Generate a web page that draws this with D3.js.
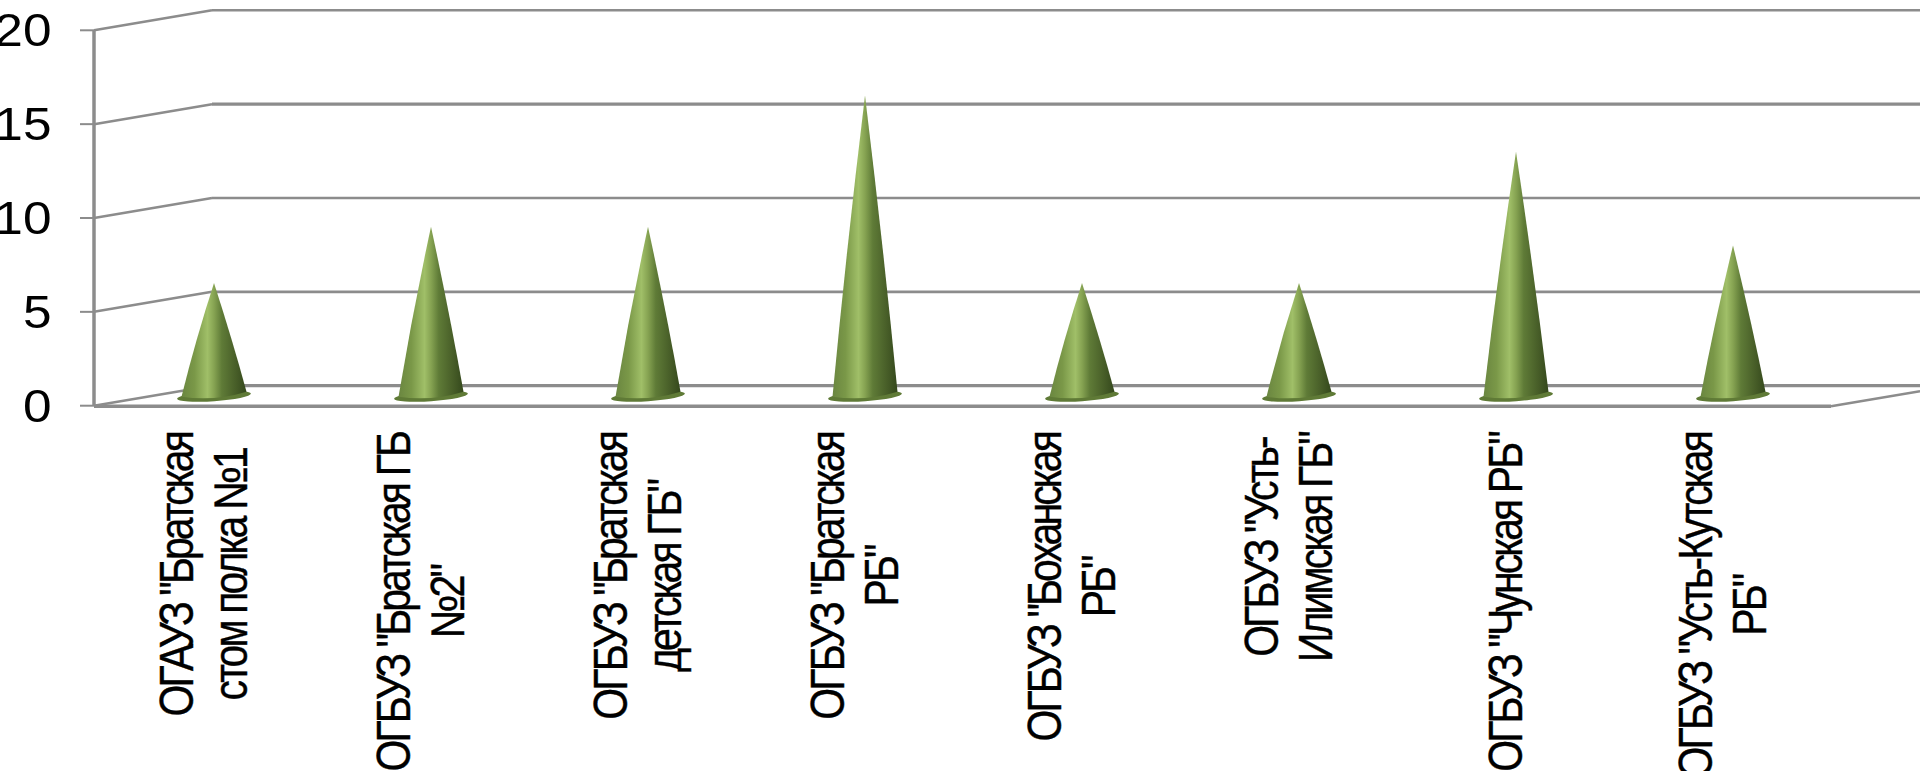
<!DOCTYPE html>
<html><head><meta charset="utf-8">
<script src="https://cdn.jsdelivr.net/npm/d3@7"></script>
<style>html,body{margin:0;padding:0;background:#fff;overflow:hidden}text{font-family:"Liberation Sans",Arial,sans-serif;fill:#000}</style>
</head><body><svg id="c" width="1920" height="771"></svg>
<script>
const categories=[
 ['ОГАУЗ "Братская','стом полка №1'],
 ['ОГБУЗ "Братская ГБ','№2"'],
 ['ОГБУЗ "Братская','детская ГБ"'],
 ['ОГБУЗ "Братская','РБ"'],
 ['ОГБУЗ "Боханская','РБ"'],
 ['ОГБУЗ "Усть-','Илимская ГБ"'],
 ['ОГБУЗ "Чунская РБ"'],
 ['ОГБУЗ "Усть-Кутская','РБ"']];
const values=[6,9,9,16,6,6,13,8];
const yTicks=[0,5,10,15,20];

const svg=d3.select('#c');
const W=1920;
const axisX=94,floorRight=1831,depthX=118,depthY=-20,gridCol='#8c8c8c';
const y=d3.scaleLinear().domain([0,20]).range([405.7,30.3]);
const x=d3.scaleBand().domain(d3.range(categories.length)).range([105.5,1841.5]);
const cx=i=>x(i)+x.bandwidth()/2;

const defs=svg.append('defs');
const g=defs.append('linearGradient').attr('id','cone').attr('x1',0).attr('x2',1).attr('y1',0).attr('y2',0);
[[0,'#6a8640'],[.2,'#7a9848'],[.4,'#a0bf68'],[.5,'#86a352'],[.62,'#5f7b37'],[.85,'#465c27'],[1,'#34481c']]
 .forEach(([o,c])=>g.append('stop').attr('offset',o).attr('stop-color',c));

const line=d3.line();
function path(pts,w,col){svg.append('path').attr('d',line(pts)).attr('fill','none').attr('stroke',col||gridCol).attr('stroke-width',w);}

yTicks.forEach(t=>{
  const yy=y(t);
  const w=(t===15||t===0)?3.2:2.6;
  path([[axisX+depthX,yy+depthY],[W,yy+depthY]],w);
  path([[axisX,yy],[axisX+depthX,yy+depthY]],2.5);
  path([[80,yy],[axisX,yy]],2);
});
path([[axisX,y(0)],[axisX,y(20)]],3.5);
path([[axisX,y(0)+.5],[floorRight,y(0)+.5]],3.4);
path([[floorRight,y(0)+.5],[W,y(0)+.5+depthY*(W-floorRight)/depthX]],2.5);

svg.selectAll('text.ytick').data(yTicks).join('text').attr('class','ytick')
  .attr('transform',d=>`translate(51.5,${y(d)+16}) scale(1.13,1)`).attr('text-anchor','end').attr('font-size',45.5).text(d=>d);

const baseOff=depthY/2, rBody=32.5, rBase=37;
values.forEach((v,i)=>{
  const c=cx(i), by=y(0)+baseOff, tipY=y(v)+baseOff;
  const h=by-tipY;
  svg.append('ellipse').attr('cx',c).attr('cy',by+.5).attr('rx',rBase).attr('ry',5)
     .attr('transform',`rotate(-4 ${c} ${by+.5})`).attr('fill','#5f7a36');
  const a=d3.path();
  a.moveTo(c,tipY);
  a.quadraticCurveTo(c+rBody*.56,tipY+h*.5,c+rBody,by-4);
  a.quadraticCurveTo(c,by+6,c-rBody,by+1);
  a.quadraticCurveTo(c-rBody*.56,tipY+h*.5,c,tipY);
  a.closePath();
  svg.append('path').attr('d',a).attr('fill','url(#cone)');
});

const pitch=54,fs=41,labelTop=433,acrossScale=1.15,tracking=-2.9;
categories.forEach((lines,i)=>{
  const gg=svg.append('g');
  const ts=lines.map(s=>gg.append('text').attr('font-size',fs).attr('letter-spacing',tracking)
    .attr('stroke','#000').attr('stroke-width',.35).attr('text-anchor','middle').text(s));
  const max=d3.max(ts,t=>t.node().getComputedTextLength());
  const mid=labelTop+max/2;
  ts.forEach((t,k)=>{
    const bx=cx(i)+6+(k-(lines.length-1)/2)*pitch;
    t.attr('transform',`translate(${bx},${mid}) rotate(-90) scale(1,${acrossScale})`);
  });
});
</script></body></html>
